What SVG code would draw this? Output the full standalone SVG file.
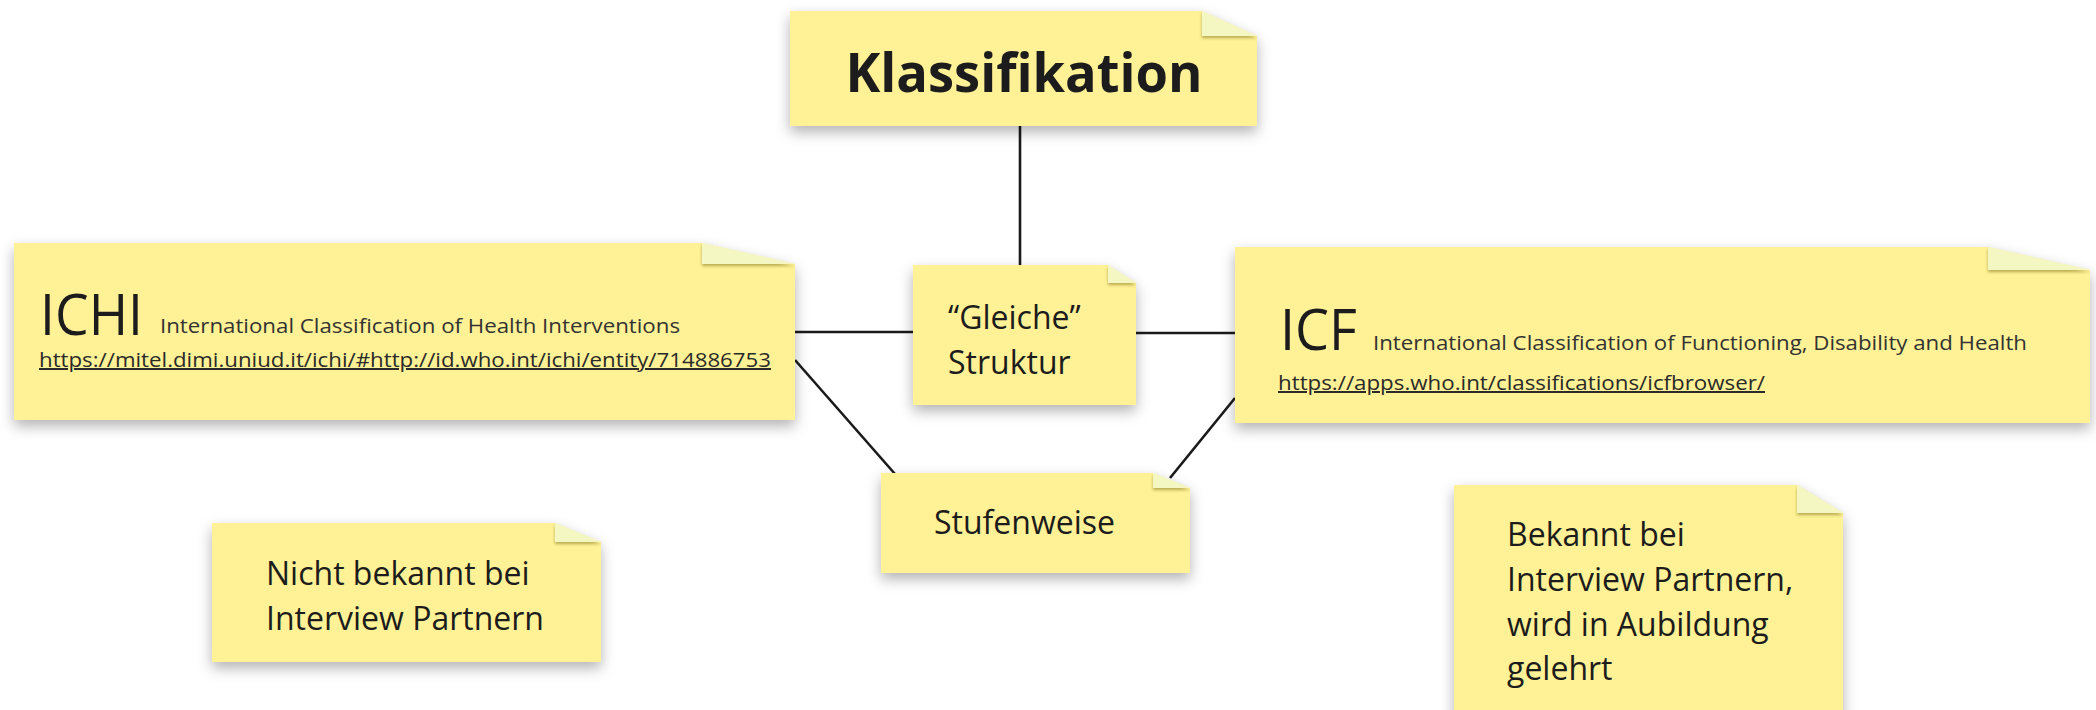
<svg xmlns="http://www.w3.org/2000/svg" width="2096" height="710" viewBox="0 0 2096 710">
<defs>
<filter id="sh" x="-10%" y="-20%" width="120%" height="150%">
<feDropShadow dx="0" dy="6" stdDeviation="7" flood-color="#000" flood-opacity="0.3"/>
</filter>
<filter id="fs" x="-20%" y="-50%" width="140%" height="250%">
<feDropShadow dx="0" dy="2" stdDeviation="1.5" flood-color="#8a7a20" flood-opacity="0.6"/>
</filter>
</defs>
<style>
.note{fill:#fef196;filter:url(#sh)}
.fold{fill:#f5f7c2;filter:url(#fs)}
.t{font-family:"Open Sans","Liberation Sans",sans-serif;fill:#1c1c1c}
.m{font-size:32px}
.big{font-size:56px;font-weight:400}
.sm{font-size:20px;fill:#333}
.url{font-size:20px;fill:#2a2a2a;text-decoration:underline}
.c{stroke:#1a1a1a;stroke-width:2.6;fill:none}
</style>
<rect width="2096" height="710" fill="#ffffff"/>
<g id="connectors">
<line class="c" x1="1020" y1="126" x2="1020" y2="266"/>
<line class="c" x1="795" y1="332" x2="913" y2="332"/>
<line class="c" x1="1136" y1="333" x2="1235" y2="333"/>
<line class="c" x1="795" y1="360" x2="895" y2="474"/>
<line class="c" x1="1235" y1="398" x2="1170" y2="478"/>
</g>
<g id="klassifikation">
<path class="note" d="M790 11H1202L1257 36V126H790Z"/>
<path class="fold" d="M1202 11L1257 36H1202Z"/>
<text class="t" x="1024" y="92" text-anchor="middle" font-size="53" font-weight="700" textLength="357" lengthAdjust="spacingAndGlyphs">Klassifikation</text>
</g>
<g id="ichi">
<path class="note" d="M14 243H702L795 264V420H14Z"/>
<path class="fold" d="M702 243L795 264H702Z"/>
<text class="t big" x="40" y="335" textLength="103" lengthAdjust="spacingAndGlyphs">ICHI</text>
<text class="t sm" x="160" y="333" textLength="520" lengthAdjust="spacingAndGlyphs">International Classification of Health Interventions</text>
<text class="t url" x="39" y="367" textLength="732" lengthAdjust="spacingAndGlyphs">https://mitel.dimi.uniud.it/ichi/#http://id.who.int/ichi/entity/714886753</text>
</g>
<g id="gleiche">
<path class="note" d="M913 265H1108L1136 283V405H913Z"/>
<path class="fold" d="M1108 265L1136 283H1108Z"/>
<text class="t m" x="948" y="329">“Gleiche”</text>
<text class="t m" x="948" y="374">Struktur</text>
</g>
<g id="icf">
<path class="note" d="M1235 247H1988L2090 270V423H1235Z"/>
<path class="fold" d="M1988 247L2090 270H1988Z"/>
<text class="t big" x="1280" y="350" textLength="77" lengthAdjust="spacingAndGlyphs">ICF</text>
<text class="t sm" x="1373" y="350" textLength="654" lengthAdjust="spacingAndGlyphs">International Classification of Functioning, Disability and Health</text>
<text class="t url" x="1278" y="390" textLength="487" lengthAdjust="spacingAndGlyphs">https://apps.who.int/classifications/icfbrowser/</text>
</g>
<g id="stufenweise">
<path class="note" d="M881 473H1153L1190 488V573H881Z"/>
<path class="fold" d="M1153 473L1190 488H1153Z"/>
<text class="t m" x="934" y="534">Stufenweise</text>
</g>
<g id="nicht-bekannt">
<path class="note" d="M212 523H555L601 542V662H212Z"/>
<path class="fold" d="M555 523L601 542H555Z"/>
<text class="t m" x="266" y="585">Nicht bekannt bei</text>
<text class="t m" x="266" y="630">Interview Partnern</text>
</g>
<g id="bekannt">
<path class="note" d="M1454 485H1797L1843 513V730H1454Z"/>
<path class="fold" d="M1797 485L1843 513H1797Z"/>
<text class="t m" x="1507" y="546">Bekannt bei</text>
<text class="t m" x="1507" y="591">Interview Partnern,</text>
<text class="t m" x="1507" y="636">wird in Aubildung</text>
<text class="t m" x="1507" y="680">gelehrt</text>
</g>
</svg>
